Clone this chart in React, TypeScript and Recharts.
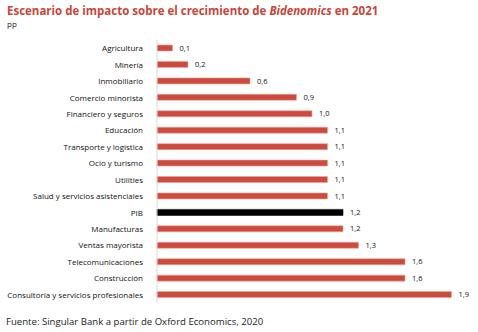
import { BarChart, Bar, XAxis, YAxis, Cell, LabelList } from "recharts";

const sectors = [
  "Agricultura",
  "Minería",
  "Inmobiliario",
  "Comercio minorista",
  "Financiero y seguros",
  "Educación",
  "Transporte y logística",
  "Ocio y turismo",
  "Utilities",
  "Salud y servicios asistenciales",
  "PIB",
  "Manufacturas",
  "Ventas mayorista",
  "Telecomunicaciones",
  "Construcción",
  "Consultoría y servicios profesionales",
];

const impact = [0.1, 0.2, 0.6, 0.9, 1.0, 1.1, 1.1, 1.1, 1.1, 1.1, 1.2, 1.2, 1.3, 1.6, 1.6, 1.9];

const RED = "#cd4b3e";
const FONT = "'Open Sans', sans-serif";

const data = sectors.map((name, i) => ({ name, value: impact[i] }));

const fmt = (v: unknown) => (typeof v === "number" ? v.toFixed(1).replace(".", ",") : String(v));

// single-line tick, recharts would otherwise wrap the long names
function SectorTick(props: any) {
  const { x, y, payload } = props;
  return (
    <text x={x - 6} y={y} dy={3} textAnchor="end" fontSize={8} fill="#111" fontFamily={FONT}>
      {payload.value}
    </text>
  );
}

export default function App() {
  return (
    <div style={{ position: "absolute", left: 0, top: 0, width: 478, height: 332, background: "#fff", fontFamily: FONT }}>
      <div style={{ position: "absolute", left: 7, top: 3, fontSize: 11.5, fontWeight: 700, color: "#c8453a", whiteSpace: "nowrap" }}>
        Escenario de impacto sobre el crecimiento de <i>Bidenomics</i> en 2021
      </div>
      <div style={{ position: "absolute", left: 7, top: 18, fontSize: 8, color: "#222" }}>pp</div>
      <BarChart
        width={478}
        height={332}
        data={data}
        layout="vertical"
        margin={{ top: 40, right: 11, left: 0, bottom: 29 }}
        barCategoryGap={5}
      >
        <XAxis type="number" domain={[0, 2]} hide />
        <YAxis
          type="category"
          dataKey="name"
          width={157}
          interval={0}
          tickLine={false}
          axisLine={{ stroke: "#d9d9d9" }}
          tick={<SectorTick />}
        />
        <Bar dataKey="value" barSize={6} isAnimationActive={false}>
          {data.map((d) => (
            <Cell
              key={d.name}
              fill={d.name === "PIB" ? "#000" : RED}
              stroke={d.name === "PIB" ? "#000" : "#e9a39b"}
              strokeWidth={0.6}
            />
          ))}
          <LabelList
            dataKey="value"
            position="right"
            offset={7}
            formatter={fmt}
            style={{ fontSize: 7.5, fill: "#111", fontFamily: FONT }}
          />
        </Bar>
      </BarChart>
      <div style={{ position: "absolute", left: 6, top: 315, fontSize: 9.6, color: "#222", whiteSpace: "nowrap" }}>
        Fuente: Singular Bank a partir de Oxford Economics, 2020
      </div>
    </div>
  );
}
